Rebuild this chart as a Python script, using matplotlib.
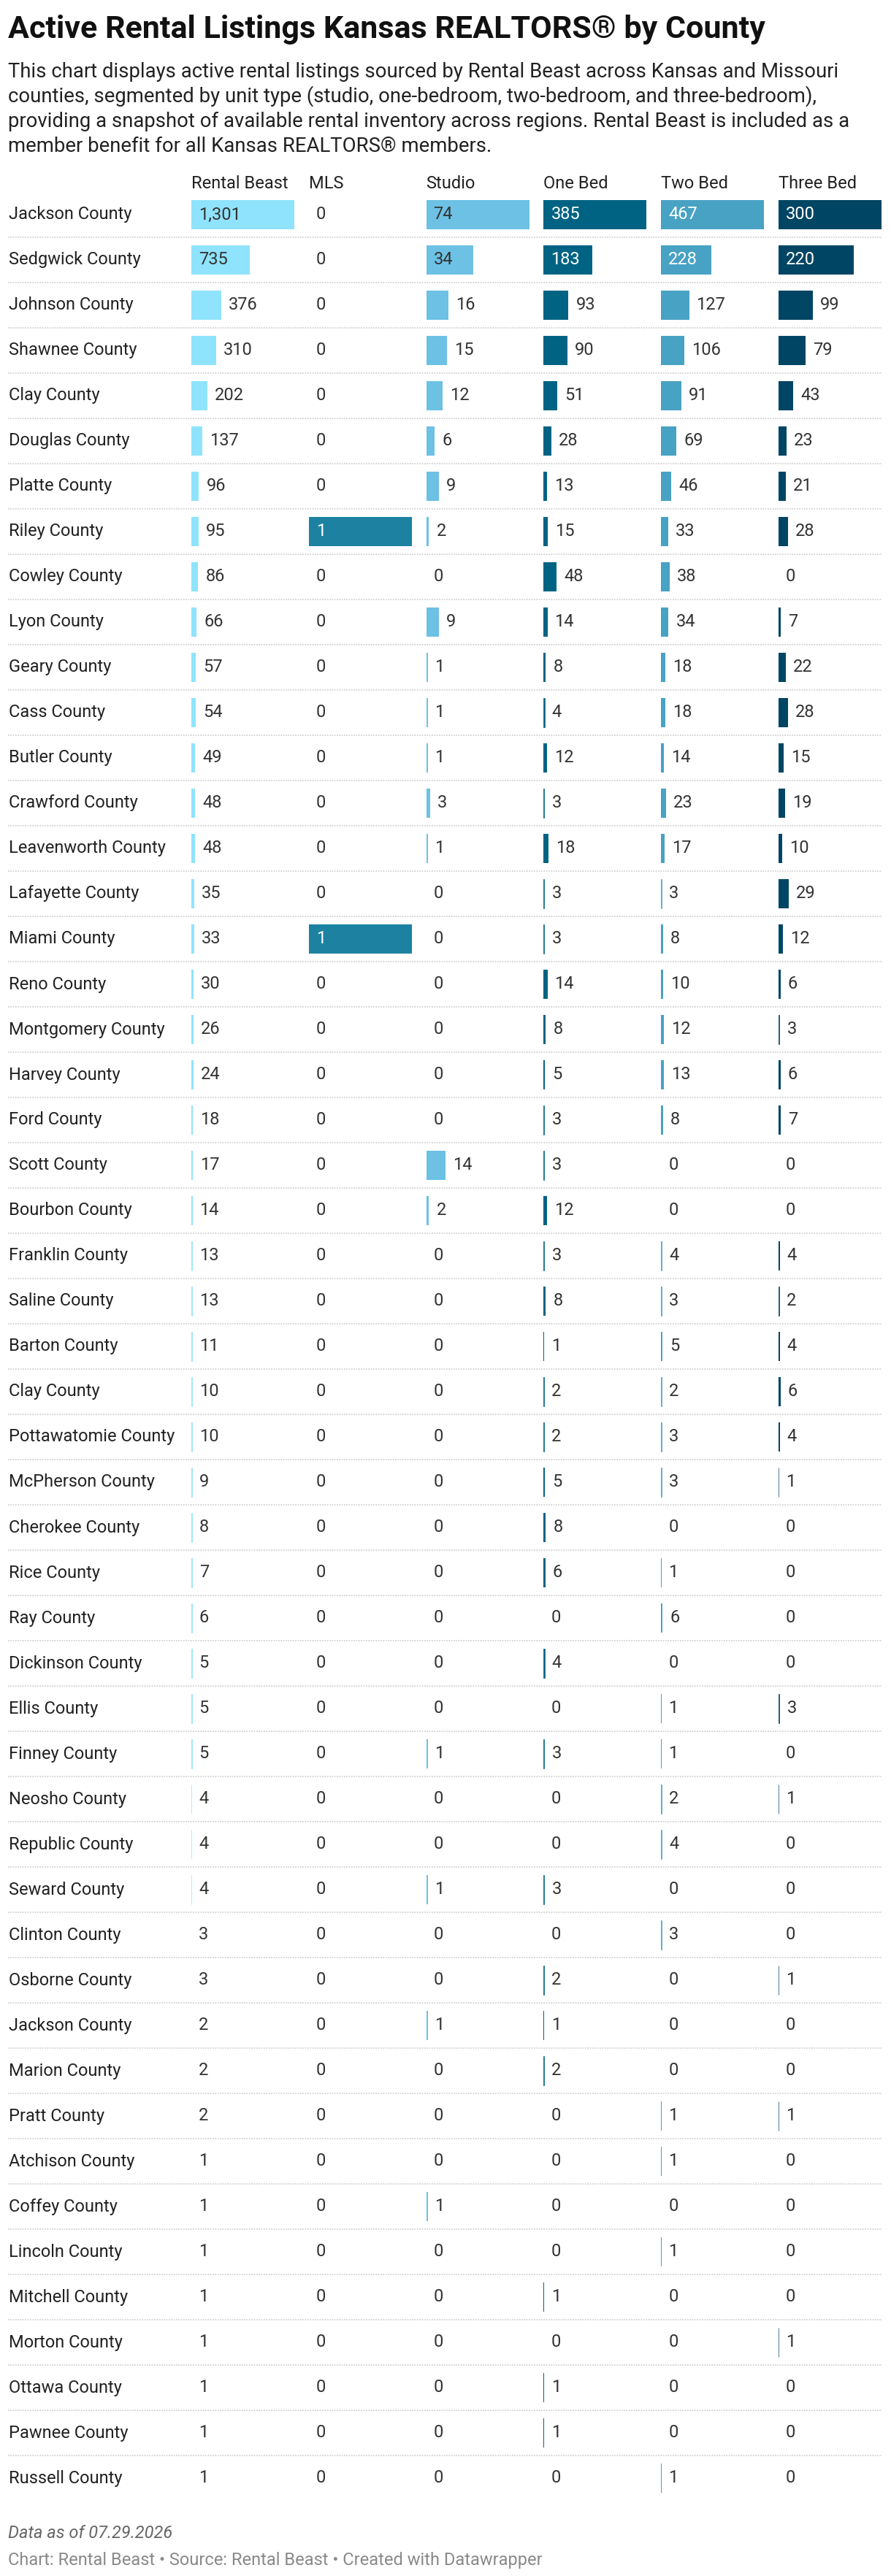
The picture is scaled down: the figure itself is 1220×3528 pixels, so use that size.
import numpy as np
import matplotlib.pyplot as plt

plt.rcParams['font.family'] = ['Roboto', 'DejaVu Sans']

# Data
counties = [
    "Jackson County", "Sedgwick County", "Johnson County", "Shawnee County", "Clay County",
    "Douglas County", "Platte County", "Riley County", "Cowley County", "Lyon County",
    "Geary County", "Cass County", "Butler County", "Crawford County", "Leavenworth County",
    "Lafayette County", "Miami County", "Reno County", "Montgomery County", "Harvey County",
    "Ford County", "Scott County", "Bourbon County", "Franklin County", "Saline County",
    "Barton County", "Clay County", "Pottawatomie County", "McPherson County", "Cherokee County",
    "Rice County", "Ray County", "Dickinson County", "Ellis County", "Finney County",
    "Neosho County", "Republic County", "Seward County", "Clinton County", "Osborne County",
    "Jackson County", "Marion County", "Pratt County", "Atchison County", "Coffey County",
    "Lincoln County", "Mitchell County", "Morton County", "Ottawa County", "Pawnee County",
    "Russell County",
]
rental_beast = [1301, 735, 376, 310, 202, 137, 96, 95, 86, 66, 57, 54, 49, 48, 48, 35, 33, 30, 26,
                24, 18, 17, 14, 13, 13, 11, 10, 10, 9, 8, 7, 6, 5, 5, 5, 4, 4, 4, 3, 3, 2, 2, 2,
                1, 1, 1, 1, 1, 1, 1, 1]
mls = [0, 0, 0, 0, 0, 0, 0, 1, 0, 0, 0, 0, 0, 0, 0, 0, 1, 0, 0, 0, 0, 0, 0, 0, 0, 0, 0, 0, 0, 0,
       0, 0, 0, 0, 0, 0, 0, 0, 0, 0, 0, 0, 0, 0, 0, 0, 0, 0, 0, 0, 0]
studio = [74, 34, 16, 15, 12, 6, 9, 2, 0, 9, 1, 1, 1, 3, 1, 0, 0, 0, 0, 0, 0, 14, 2, 0, 0, 0, 0,
          0, 0, 0, 0, 0, 0, 0, 1, 0, 0, 1, 0, 0, 1, 0, 0, 0, 1, 0, 0, 0, 0, 0, 0]
one_bed = [385, 183, 93, 90, 51, 28, 13, 15, 48, 14, 8, 4, 12, 3, 18, 3, 3, 14, 8, 5, 3, 3, 12, 3,
           8, 1, 2, 2, 5, 8, 6, 0, 4, 0, 3, 0, 0, 3, 0, 2, 1, 2, 0, 0, 0, 0, 1, 0, 1, 1, 0]
two_bed = [467, 228, 127, 106, 91, 69, 46, 33, 38, 34, 18, 18, 14, 23, 17, 3, 8, 10, 12, 13, 8, 0,
           0, 4, 3, 5, 2, 3, 3, 0, 1, 6, 0, 1, 1, 2, 4, 0, 3, 0, 0, 0, 1, 1, 0, 1, 0, 0, 0, 0, 1]
three_bed = [300, 220, 99, 79, 43, 23, 21, 28, 0, 7, 22, 28, 15, 19, 10, 29, 12, 6, 3, 6, 7, 0, 0,
             4, 2, 4, 6, 4, 1, 0, 0, 0, 0, 3, 0, 1, 0, 0, 0, 1, 0, 0, 1, 0, 0, 0, 0, 1, 0, 0, 0]

headers = ["Rental Beast", "MLS", "Studio", "One Bed", "Two Bed", "Three Bed"]
series = [rental_beast, mls, studio, one_bed, two_bed, three_bed]
colors = ["#8fe3fc", "#1d82a2", "#6cc1e4", "#006383", "#48a2c4", "#004563"]
dark_bar = [False, True, False, True, True, True]

# Layout (pixels)
W, H = 1220, 3528
row_top = 263
row_h = 62
n = len(counties)
row_bottom = row_top + row_h * n
col_x0 = 262
col_step = 160.8
col_w = 141

fig = plt.figure(figsize=(W / 100, H / 100), dpi=100)
fig.patch.set_facecolor("white")

def fy(px):
    return 1 - px / H

# Title, description
fig.text(11 / W, fy(52), "Active Rental Listings Kansas REALTORS\u00ae by County",
         fontsize=31, fontweight="bold", color="#111111", va="baseline")
desc = [
    "This chart displays active rental listings sourced by Rental Beast across Kansas and Missouri",
    "counties, segmented by unit type (studio, one-bedroom, two-bedroom, and three-bedroom),",
    "providing a snapshot of available rental inventory across regions. Rental Beast is included as a",
    "member benefit for all Kansas REALTORS\u00ae members.",
]
for k, line in enumerate(desc):
    fig.text(11 / W, fy(106 + 34 * k), line, fontsize=19.85, color="#222222", va="baseline")

# Background axes: separators and county names
bg = fig.add_axes([0, fy(row_bottom), 1, (row_bottom - row_top) / H])
bg.set_xlim(0, W)
bg.set_ylim(n - 0.5, -0.5)
bg.axis("off")
bg.hlines(np.arange(n - 1) + 0.5, 11, 1208, color="#cccccc", linewidth=1.2,
          linestyles=(0, (1, 1)))
for i, name in enumerate(counties):
    bg.text(12, i, name, fontsize=17, color="#222222", va="center", ha="left")

# Column headers and bars
for j, (head, vals) in enumerate(zip(headers, series)):
    x0 = col_x0 + j * col_step
    fig.text(x0 / W, fy(258), head, fontsize=17, color="#222222", va="baseline")
    ax = fig.add_axes([x0 / W, fy(row_bottom), col_w / W, (row_bottom - row_top) / H])
    ax.set_facecolor("none")
    ax.axis("off")
    vmax = max(vals)
    ax.set_xlim(0, vmax)
    ax.set_ylim(n - 0.5, -0.5)
    # tiny bars (under a pixel) get a hairline edge so they stay visible, like the original
    px_w = [v / vmax * col_w for v in vals]
    edge_lw = [0.5 if 0.4 <= p < 1.5 else 0 for p in px_w]
    ax.barh(np.arange(n), vals, height=40 / row_h, color=colors[j],
            edgecolor=colors[j], linewidth=edge_lw)
    for i, v in enumerate(vals):
        if v / vmax > 0.4:
            ax.annotate(f"{v:,}", xy=(0, i), xytext=(10, 0), textcoords="offset pixels",
                        va="center", ha="left", fontsize=17,
                        color="white" if dark_bar[j] else "#333333")
        else:
            ax.annotate(f"{v:,}", xy=(v, i), xytext=(10, 0), textcoords="offset pixels",
                        va="center", ha="left", fontsize=17, color="#333333")

# Notes
fig.text(11 / W, fy(3476), "Data as of 07.29.2026", fontsize=17, style="italic",
         color="#666666", va="baseline")
fig.text(11 / W, fy(3513),
         "Chart: Rental Beast \u2022 Source: Rental Beast \u2022 Created with Datawrapper",
         fontsize=17, color="#8a8a8a", va="baseline")

fig.savefig("out.png", dpi=100, facecolor="white")
